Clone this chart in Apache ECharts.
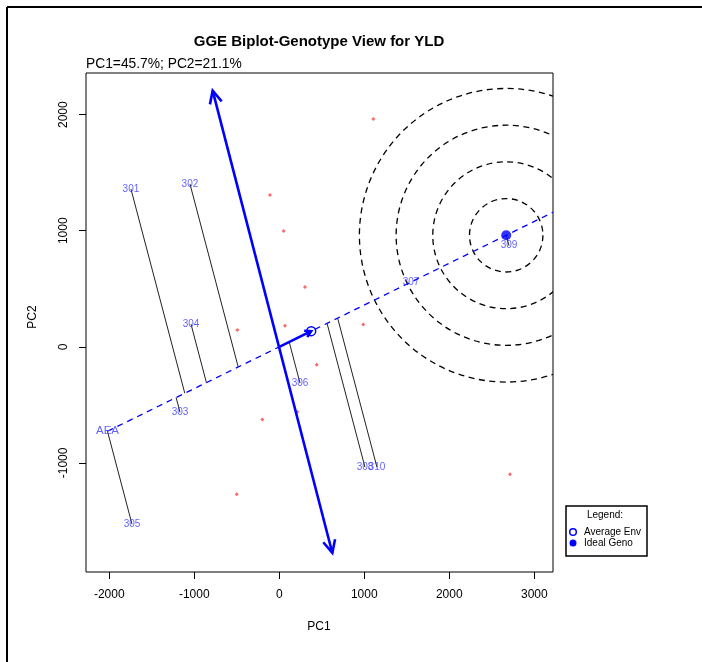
<!DOCTYPE html>
<html>
<head>
<meta charset="utf-8">
<script src="https://cdn.jsdelivr.net/npm/echarts@6/dist/echarts.min.js"></script>
<style>
html, body { margin: 0; padding: 0; background: #fff; }
#chart { width: 702px; height: 662px; }
</style>
</head>
<body>
<div id="chart"></div>
<script>
// genotype scores (PC1, PC2)
const genoNames = ['301', '302', '303', '304', '305', '306', '307', '308', '309', '310'];
const genoPC1 = [-1745, -1051, -1168, -1039, -1733, 244, 1550, 1008, 2702, 1149];
const genoPC2 = [1359, 1403, -564, 196, -1528, -313, 560, -1037, 871, -1037];
// environment scores
const envPC1 = [1106, -109, 51, 302, -494, 67, 988, 440, 212, -200, -501, 2714];
const envPC2 = [1963, 1308, 997, 515, 144, 181, 193, -155, -560, -626, -1270, -1097];
// average environment, concentric circle radii (PC1 units), perpendicular axis ends
const avgEnv = [375, 135];
const circleRadii = [432, 864, 1295, 1727];
const perpEnds = [[-784, 2207], [624, -1776]];
const xTicks = [-2000, -1000, 0, 1000, 2000, 3000];
const yTicks = [-1000, 0, 1000, 2000];
const xRange = [-2274, 3220];
const yRange = [-1940, 2359];

const BLUE = '#0000ff';
const LABEL_BLUE = '#3a3aff';
const FONT = 'Liberation Sans, Arial, sans-serif';

// projection of genotypes on the AEA
const aeaLen = Math.hypot(avgEnv[0], avgEnv[1]);
const ux = avgEnv[0] / aeaLen, uy = avgEnv[1] / aeaLen;
const projLen = genoNames.map((n, i) => genoPC1[i] * ux + genoPC2[i] * uy);
const projData = genoNames.map((n, i) => [genoPC1[i], genoPC2[i], projLen[i] * ux, projLen[i] * uy]);
const minProj = Math.min(...projLen), maxProj = Math.max(...projLen);
const aeaStart = [minProj * ux, minProj * uy];
const aeaEnd = [xRange[1], xRange[1] * uy / ux];
const idealGeno = [maxProj * ux, maxProj * uy];

function vHead(tip, from, len, ang) {
    const dx = from[0] - tip[0], dy = from[1] - tip[1];
    const L = Math.hypot(dx, dy);
    const ex = dx / L, ey = dy / L;
    const rot = (a) => [tip[0] + len * (ex * Math.cos(a) - ey * Math.sin(a)),
                        tip[1] + len * (ex * Math.sin(a) + ey * Math.cos(a))];
    return [rot(ang), tip, rot(-ang)];
}

const chart = echarts.init(document.getElementById('chart'), null, { renderer: 'canvas' });

const option = {
    animation: false,
    backgroundColor: '#fff',
    grid: { left: 86, top: 73, right: 149, bottom: 90, show: true, borderColor: '#000', borderWidth: 1, backgroundColor: 'transparent' },
    xAxis: {
        type: 'value', min: xRange[0], max: xRange[1],
        axisLine: { show: false, onZero: false },
        splitLine: { show: false },
        axisTick: { show: true, customValues: xTicks, length: 7, lineStyle: { color: '#000' } },
        axisLabel: { customValues: xTicks, margin: 17, color: '#000', fontSize: 12, fontFamily: FONT, formatter: v => String(v) }
    },
    yAxis: {
        type: 'value', min: yRange[0], max: yRange[1],
        axisLine: { show: false, onZero: false },
        splitLine: { show: false },
        axisTick: { show: true, customValues: yTicks, length: 7, lineStyle: { color: '#000' } },
        axisLabel: { customValues: yTicks, rotate: 90, margin: 16, color: '#000', fontSize: 12, fontFamily: FONT, formatter: v => String(v) }
    },
    series: [
        {   // concentric circles round the ideal genotype
            type: 'custom', clip: true, silent: true,
            data: circleRadii.map(r => [idealGeno[0], idealGeno[1], r]),
            encode: { x: 0, y: 1 },
            renderItem: (params, api) => {
                const c = api.coord([api.value(0), api.value(1)]);
                const r = api.size([api.value(2), 0])[0];
                return { type: 'circle', shape: { cx: c[0], cy: c[1], r: r },
                    style: { fill: null, stroke: '#000', lineWidth: 1.3, lineDash: [6, 4.5] } };
            }
        },
        {   // AEA dashed line
            type: 'line', data: [aeaStart, aeaEnd], symbol: 'none', clip: true, silent: true,
            lineStyle: { color: BLUE, width: 1.3, type: [6, 5] }, z: 3
        },
        {   // projection lines genotype -> AEA
            type: 'custom', silent: true,
            data: projData,
            encode: { x: [0, 2], y: [1, 3] },
            renderItem: (params, api) => {
                const a = api.coord([api.value(0), api.value(1)]);
                const b = api.coord([api.value(2), api.value(3)]);
                return { type: 'line', shape: { x1: a[0], y1: a[1], x2: b[0], y2: b[1] },
                    style: { stroke: '#222', lineWidth: 1 } };
            }
        },
        {   // perpendicular double arrow
            type: 'custom', silent: true, z: 4,
            data: [[perpEnds[0][0], perpEnds[0][1], perpEnds[1][0], perpEnds[1][1]]],
            encode: { x: [0, 2], y: [1, 3] },
            renderItem: (params, api) => {
                const a = api.coord([api.value(0), api.value(1)]);
                const b = api.coord([api.value(2), api.value(3)]);
                const st = { stroke: BLUE, lineWidth: 2.6, fill: null, lineJoin: 'miter' };
                return { type: 'group', children: [
                    { type: 'line', shape: { x1: a[0], y1: a[1], x2: b[0], y2: b[1] }, style: st },
                    { type: 'polyline', shape: { points: vHead(a, b, 14, Math.PI / 7) }, style: st },
                    { type: 'polyline', shape: { points: vHead(b, a, 14, Math.PI / 7) }, style: st }
                ] };
            }
        },
        {   // origin -> average environment arrow
            type: 'custom', silent: true, z: 5,
            data: [[0, 0, avgEnv[0], avgEnv[1]]],
            encode: { x: [0, 2], y: [1, 3] },
            renderItem: (params, api) => {
                const a = api.coord([api.value(0), api.value(1)]);
                const b = api.coord([api.value(2), api.value(3)]);
                const st = { stroke: BLUE, lineWidth: 2.6, fill: null };
                return { type: 'group', children: [
                    { type: 'line', shape: { x1: a[0], y1: a[1], x2: b[0], y2: b[1] }, style: st },
                    { type: 'polyline', shape: { points: vHead(b, a, 7, Math.PI / 6) }, style: st },
                    { type: 'circle', shape: { cx: b[0], cy: b[1], r: 4.5 }, style: { stroke: BLUE, lineWidth: 1.5, fill: null } }
                ] };
            }
        },
        {   // environments
            type: 'scatter', silent: true, z: 3,
            data: envPC1.map((x, i) => [x, envPC2[i]]),
            symbol: 'diamond', symbolSize: 4,
            itemStyle: { color: '#ff4444' }
        },
        {   // ideal genotype
            type: 'scatter', silent: true, z: 6,
            data: [idealGeno],
            symbol: 'circle', symbolSize: 10,
            itemStyle: { color: BLUE }
        },
        {   // genotype labels
            type: 'scatter', silent: true, z: 7,
            data: genoNames.map((n, i) => ({ name: n, value: [genoPC1[i], genoPC2[i]] })),
            symbolSize: 1, itemStyle: { color: 'rgba(0,0,0,0)' },
            label: { show: true, position: 'inside', formatter: p => p.name, color: LABEL_BLUE, fontSize: 10, fontFamily: FONT }
        },
        {   // AEA label
            type: 'scatter', silent: true, z: 7,
            data: [{ name: 'AEA', value: aeaStart }],
            symbolSize: 1, itemStyle: { color: 'rgba(0,0,0,0)' },
            label: { show: true, position: 'inside', formatter: p => p.name, color: LABEL_BLUE, fontSize: 11.5, fontFamily: FONT }
        }
    ],
    graphic: [
        { type: 'line', shape: { x1: 7, y1: 7, x2: 702, y2: 7 }, style: { stroke: '#000', lineWidth: 2 } },
        { type: 'line', shape: { x1: 7, y1: 7, x2: 7, y2: 662 }, style: { stroke: '#000', lineWidth: 2 } },
        { type: 'text', x: 319, y: 42, style: { text: 'GGE Biplot-Genotype View for YLD', font: 'bold 15px ' + FONT, fill: '#000', align: 'center', verticalAlign: 'middle' } },
        { type: 'text', x: 86, y: 64.5, style: { text: 'PC1=45.7%; PC2=21.1%', font: '13.8px ' + FONT, fill: '#000', align: 'left', verticalAlign: 'middle' } },
        { type: 'text', x: 319, y: 627, style: { text: 'PC1', font: '12px ' + FONT, fill: '#000', align: 'center', verticalAlign: 'middle' } },
        { type: 'text', x: 33, y: 317, rotation: Math.PI / 2, style: { text: 'PC2', font: '12px ' + FONT, fill: '#000', align: 'center', verticalAlign: 'middle' } },
        // legend
        { type: 'rect', shape: { x: 566, y: 506, width: 81, height: 50 }, style: { fill: '#fff', stroke: '#000', lineWidth: 1.5 } },
        { type: 'text', x: 605, y: 515, style: { text: 'Legend:', font: '10px ' + FONT, fill: '#000', align: 'center', verticalAlign: 'middle' } },
        { type: 'circle', shape: { cx: 573, cy: 532, r: 3.3 }, style: { fill: null, stroke: BLUE, lineWidth: 1.5 } },
        { type: 'text', x: 584, y: 532, style: { text: 'Average Env', font: '10px ' + FONT, fill: '#000', align: 'left', verticalAlign: 'middle' } },
        { type: 'circle', shape: { cx: 573, cy: 543, r: 3.5 }, style: { fill: BLUE } },
        { type: 'text', x: 584, y: 543, style: { text: 'Ideal Geno', font: '10px ' + FONT, fill: '#000', align: 'left', verticalAlign: 'middle' } }
    ]
};

chart.setOption(option);
</script>
</body>
</html>
